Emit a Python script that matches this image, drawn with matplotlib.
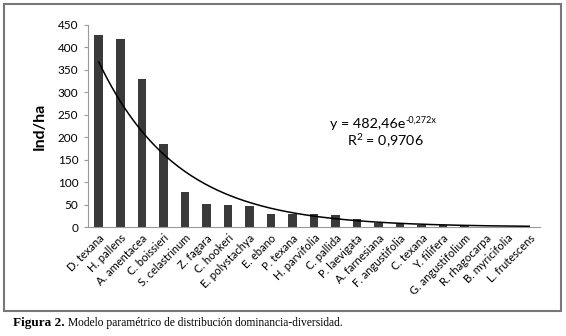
import matplotlib.pyplot as plt
import numpy
from matplotlib.patches import Rectangle

species = ["D. texana", "H. pallens", "A. amentacea", "C. boissieri", "S. celastrinum",
           "Z. fagara", "C. hookeri", "E. polystachya", "E. ebano", "P. texana",
           "H. parvifolia", "C. pallida", "P. laevigata", "A. farnesiana", "F. angustifolia",
           "C. texana", "Y. filifera", "G. angustifolium", "R. rhagocarpa", "B. myricifolia",
           "L. frutescens"]
ind_ha = [427, 419, 329, 185, 77, 51, 49, 47, 30, 30, 29, 27, 18, 10, 7, 5, 4, 2, 1, 1, 1]
yticks = [0, 50, 100, 150, 200, 250, 300, 350, 400, 450]

# exponential trendline from the equation on the chart
a, b = 482.46, -0.272

plt.rcParams['font.family'] = ['Lato', 'DejaVu Sans']

fig = plt.figure(figsize=(5.66, 3.36), dpi=100)
ax = fig.add_axes([0.1555, 0.3244, 0.7985, 0.6012])

x = numpy.arange(1, len(species) + 1)
ax.bar(x, ind_ha, width=0.4, color='#3a3a3a', zorder=2)
xs = numpy.linspace(1, len(species), 200)
ax.plot(xs, a * numpy.exp(b * xs), color='black', lw=1.1, zorder=3)

ax.set_xlim(0.5, len(species) + 0.5)
ax.set_ylim(0, 450)
ax.set_yticks(yticks)
ax.set_xticks(x)
ax.set_xticklabels(species, rotation=45, ha='right', rotation_mode='anchor', fontsize=8)
ax.tick_params(axis='y', labelsize=8.5, length=3, color='#999999', pad=4)
ax.tick_params(axis='x', length=0, pad=4)
for s in ['top', 'right']:
    ax.spines[s].set_visible(False)
for s in ['left', 'bottom']:
    ax.spines[s].set_color('#999999')
    ax.spines[s].set_linewidth(0.8)

ax.set_ylabel('Ind/ha', fontsize=11.5, fontweight='bold', labelpad=8)

fig.text(330 / 566, 1 - 124 / 336, 'y = 482,46e', fontsize=10.3, ha='left', va='center')
fig.text(405 / 566, 1 - 120 / 336, '-0,272x', fontsize=6.5, ha='left', va='center')
fig.text(385 / 566, 1 - 141 / 336, r'R$^{\mathregular{2}}$ = 0,9706',
         fontsize=10.3, ha='center', va='center')

# outer frame of the chart
fig.patches.append(Rectangle((4 / 566, 1 - 311 / 336), 557 / 566, 307 / 336,
                             transform=fig.transFigure, fill=False,
                             edgecolor='#777777', lw=1.5))

fig.text(13 / 566, 1 - 323 / 336, 'Figura 2.', fontsize=9.5, fontweight='bold',
         family='Liberation Serif', va='center')
fig.text(68 / 566, 1 - 323 / 336,
         'Modelo paramétrico de distribución dominancia-diversidad.',
         fontsize=8.3, family='Liberation Serif', va='center')

plt.savefig('out.png', dpi=100)
